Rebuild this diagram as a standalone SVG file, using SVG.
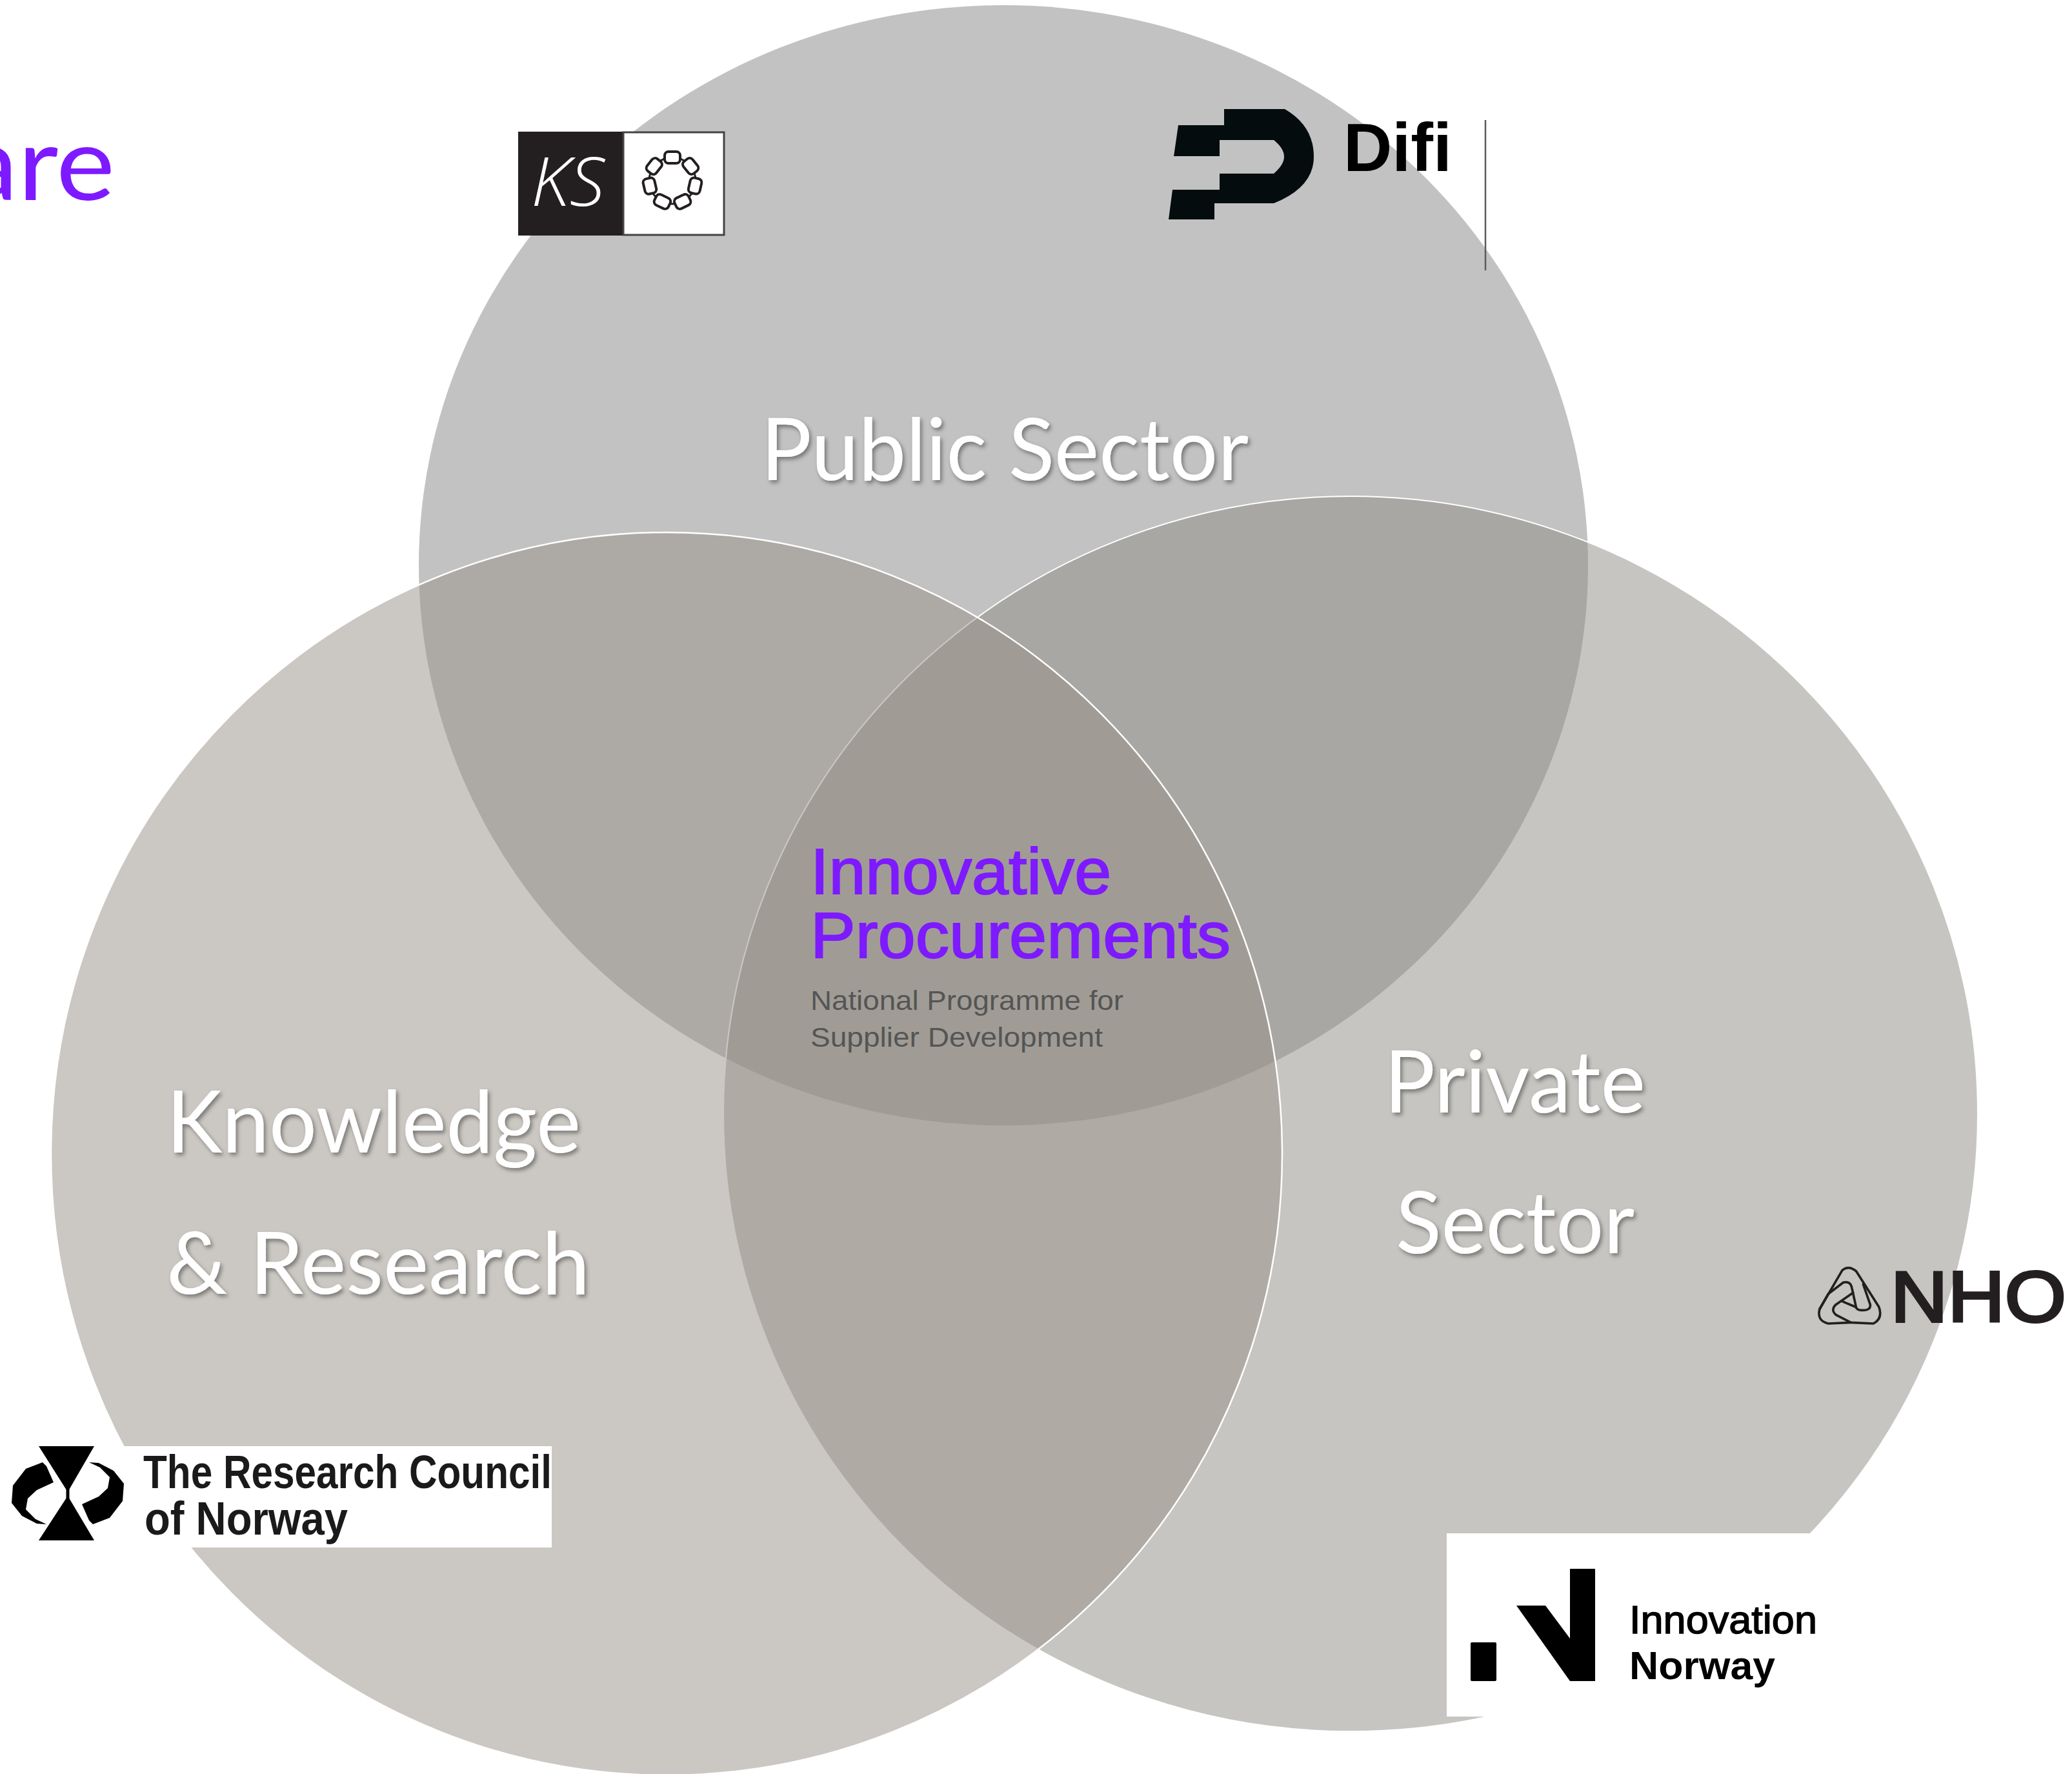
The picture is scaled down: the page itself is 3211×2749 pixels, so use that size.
<svg xmlns="http://www.w3.org/2000/svg" width="3211" height="2749" viewBox="0 0 3211 2749">
<style>
.lbl{font-family:"Lato","Liberation Sans",sans-serif;font-size:134px;fill:#fff;filter:url(#sh)}
.sans{font-family:"Liberation Sans",Arial,sans-serif}
.pur{fill:#7e1aff;font-size:100px;stroke:#7e1aff;stroke-width:2px}
.sub{fill:#555;font-size:43px}
.rc{font-size:72px;fill:#1a1a1a;font-weight:700}
.iv{font-size:62px;fill:#000}
.link{fill:#fff;stroke:#231f20;stroke-width:4}
.nho{fill:none;stroke:#231f20;stroke-width:11;stroke-linejoin:round;stroke-linecap:round}
</style>
<defs>
<filter id="sh" x="-5%" y="-20%" width="110%" height="140%"><feDropShadow dx="3" dy="4" stdDeviation="3" flood-color="#000" flood-opacity="0.4"/></filter>
<rect id="lk" x="-12" y="-45" width="24" height="18" rx="6" class="link"/>
</defs>
<rect width="3211" height="2749" fill="#fff"/>
<g id="circle-public"><ellipse cx="1555" cy="876" rx="906" ry="868" fill="#858585" fill-opacity="0.5"/></g>
<g id="circle-private"><ellipse cx="2093" cy="1726" rx="972" ry="957" fill="#8d8b83" fill-opacity="0.5" stroke="#fff" stroke-width="2"/></g>
<g id="circle-knowledge"><ellipse cx="1033" cy="1788" rx="954" ry="963" fill="#979187" fill-opacity="0.5" stroke="#fff" stroke-width="2.5"/></g>

<g id="title-fragment"><text x="-58" y="310" font-family="Lato,Liberation Sans,sans-serif" font-size="160" fill="#7e1aff" textLength="236" lengthAdjust="spacingAndGlyphs">are</text></g>

<g id="logo-ks">
<rect x="803" y="204" width="163" height="161" fill="#231f20"/>
<rect x="966" y="205" width="156" height="159" fill="#fff" stroke="#444" stroke-width="3"/>
<text x="823" y="319" font-family="Open Sans,Liberation Sans,sans-serif" font-weight="300" font-style="italic" font-size="106" fill="#fff" textLength="114" lengthAdjust="spacingAndGlyphs">KS</text>
<g transform="translate(1042 280)">
<circle r="36" fill="none" stroke="#231f20" stroke-width="3"/>
<use href="#lk"/>
<use href="#lk" transform="rotate(51.4)"/>
<use href="#lk" transform="rotate(102.8)"/>
<use href="#lk" transform="rotate(154.2)"/>
<use href="#lk" transform="rotate(205.6)"/>
<use href="#lk" transform="rotate(257)"/>
<use href="#lk" transform="rotate(308.4)"/>
</g>
</g>

<g id="logo-difi">
<path d="M1897 169H1991Q2036 195 2036 243Q2036 290 1974 315H1882V340H1811L1817 294H1890V269H1974Q1990 255 1990 243Q1990 230 1974 217H1890V242H1819L1826 194H1897Z" fill="#040c0e"/>
<text class="sans" x="2082" y="265" font-size="105" font-weight="700" fill="#000" textLength="168" lengthAdjust="spacingAndGlyphs">Difi</text>
<line x1="2302" y1="186" x2="2302" y2="419" stroke="#5f5a5a" stroke-width="2.5"/>
</g>

<g id="logo-research-council">
<rect x="10" y="2241" width="845" height="157" fill="#fff"/>
<path d="M60 2241H146L105 2312ZM60 2387H146L105 2318ZM66 2266L40 2276L20 2302L18 2329L34 2349L57 2361L72 2362L55 2354L40 2339L43 2322L57 2309L83 2297L72 2272ZM144 2362L170 2352L190 2326L192 2299L176 2279L153 2267L138 2266L155 2274L170 2289L167 2306L153 2319L127 2331L138 2356Z" fill="#000"/>
<line x1="105" y1="2300" x2="105" y2="2330" stroke="#000" stroke-width="5"/>
<text class="sans rc" x="222" y="2306" textLength="633" lengthAdjust="spacingAndGlyphs">The Research Council</text>
<text class="sans rc" x="224" y="2378" textLength="315" lengthAdjust="spacingAndGlyphs">of Norway</text>
</g>

<g id="logo-nho">
<g transform="translate(2800 1950) scale(.3333)">
<path class="nho" d="M60 235L165 55Q195 30 230 60L335 225Q355 280 310 303L205 298L135 262Q110 240 135 215L215 160"/>
<path class="nho" d="M60 235Q45 290 100 303L205 298"/>
<path class="nho" d="M60 235L100 165L170 112Q200 105 208 130L230 230Q240 245 275 240Q298 235 295 215L262 120"/>
<path class="nho" d="M165 200L225 225"/>
</g>
<text class="sans" x="2930" y="2048" font-size="112" fill="#231f20" stroke="#231f20" stroke-width="4" textLength="272" lengthAdjust="spacingAndGlyphs">NHO</text>
</g>

<g id="logo-innovation-norway">
<rect x="2242" y="2376" width="600" height="284" fill="#fff"/>
<rect x="2279" y="2545" width="40" height="60" rx="2" fill="#000"/>
<path d="M2433 2431H2472V2605H2433L2350 2488H2395L2433 2539Z" fill="#000"/>
<text class="sans iv" x="2525" y="2531" stroke="#000" stroke-width="1.5" textLength="291" lengthAdjust="spacingAndGlyphs">Innovation</text>
<text class="sans iv" x="2525" y="2602" font-weight="700" textLength="226" lengthAdjust="spacingAndGlyphs">Norway</text>
</g>

<g id="label-public"><text class="lbl" x="1179" y="744" textLength="756" lengthAdjust="spacingAndGlyphs">Public Sector</text></g>
<g id="label-knowledge">
<text class="lbl" x="258" y="1786" textLength="642" lengthAdjust="spacingAndGlyphs">Knowledge</text>
<text class="lbl" x="258" y="2005" textLength="656" lengthAdjust="spacingAndGlyphs">&amp; Research</text>
</g>
<g id="label-private">
<text class="lbl" x="2145" y="1724" textLength="405" lengthAdjust="spacingAndGlyphs">Private</text>
<text class="lbl" x="2163" y="1942" textLength="370" lengthAdjust="spacingAndGlyphs">Sector</text>
</g>

<g id="center-label">
<text class="sans pur" x="1256" y="1385" textLength="466" lengthAdjust="spacingAndGlyphs">Innovative</text>
<text class="sans pur" x="1256" y="1484" textLength="651" lengthAdjust="spacingAndGlyphs">Procurements</text>
<text class="sans sub" x="1256" y="1565" textLength="485" lengthAdjust="spacingAndGlyphs">National Programme for</text>
<text class="sans sub" x="1256" y="1622" textLength="453" lengthAdjust="spacingAndGlyphs">Supplier Development</text>
</g>
</svg>
